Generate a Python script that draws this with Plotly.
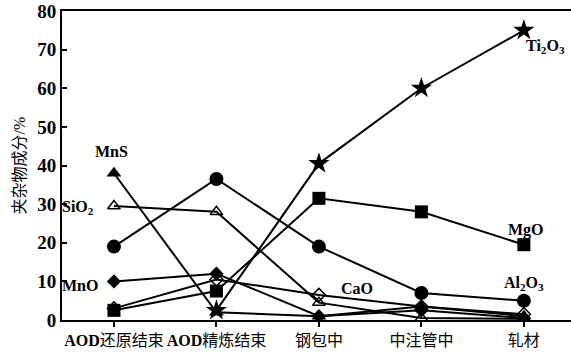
import plotly.graph_objects as go

stages = ["AOD还原结束", "AOD精炼结束", "钢包中", "中注管中", "轧材"]
al2o3 = [19, 36.5, 19, 7, 5]
mgo = [2.5, 7.5, 31.5, 28, 19.5]
mns = [38, 2, 1, 3.5, 1]
sio2 = [29.5, 28, 4.5, 0.5, 0.3]
mno = [10, 12, 1, 2.5, 0.5]
cao = [3, 10.5, 6.5, 3.5, 1.5]
ti2o3 = [None, 2.5, 40.5, 60, 75]
y_ticks = [0, 10, 20, 30, 40, 50, 60, 70, 80]

FONT = "Liberation Serif, Noto Sans CJK SC, serif"
xi = list(range(len(stages)))

series = [
    ("CaO", cao, dict(symbol="diamond-open", size=10, line=dict(width=1.5, color="black"))),
    ("SiO2", sio2, dict(symbol="triangle-up-open", size=11, line=dict(width=1.5, color="black"))),
    ("MnO", mno, dict(symbol="diamond", size=11)),
    ("MnS", mns, dict(symbol="triangle-up", size=13)),
    ("Al2O3", al2o3, dict(symbol="circle", size=14)),
    ("MgO", mgo, dict(symbol="square", size=13)),
    ("Ti2O3", ti2o3, dict(symbol="star", size=16)),
]

fig = go.Figure()
for name, vals, mk in series:
    fig.add_trace(go.Scatter(
        x=xi, y=vals, mode="lines+markers", name=name,
        line=dict(color="black", width=2),
        marker=dict(color="black", **mk),
        connectgaps=False, showlegend=False,
    ))

labels = [
    (0, mns[0], "MnS", -2, -22),
    (0, sio2[0], "SiO<sub>2</sub>", -36, 1),
    (0, mno[0], "MnO", -34, 4),
    (2, cao[2], "CaO", 38, -6),
    (4, al2o3[4], "Al<sub>2</sub>O<sub>3</sub>", 0, -17),
    (4, mgo[4], "MgO", 2, -15),
    (4, ti2o3[4], "Ti<sub>2</sub>O<sub>3</sub>", 22, 16),
]
for x, y, t, ax, ay in labels:
    fig.add_annotation(x=x, y=y, text="<b>" + t + "</b>", showarrow=False, xshift=ax, yshift=-ay,
                       font=dict(family=FONT, size=16, color="black"))

def fmt(s):
    if s.startswith("AOD"):
        return "<b>AOD</b>" + s[3:]
    return s

fig.update_layout(
    width=571, height=354,
    margin=dict(l=62, r=0, t=11, b=34),
    paper_bgcolor="white", plot_bgcolor="white",
    font=dict(family=FONT, color="black"),
    xaxis=dict(
        range=[-0.507, 4.46], tickvals=xi, ticktext=[fmt(s) for s in stages],
        tickangle=0,
        showgrid=False, zeroline=False, showline=True, linecolor="black", linewidth=2,
        mirror=True, ticks="outside", ticklen=5, tickwidth=1.5, tickcolor="black",
        tickfont=dict(family=FONT, size=16, color="black"),
    ),
    yaxis=dict(
        range=[0, 80], tickvals=y_ticks, ticktext=["<b>%d</b>" % v for v in y_ticks],
        showgrid=False, zeroline=False, showline=True, linecolor="black", linewidth=2,
        ticks="inside", ticklen=5, tickwidth=1.5, tickcolor="black",
        tickfont=dict(family=FONT, size=19, color="black"),
        title=dict(text="夹杂物成分/%", font=dict(family=FONT, size=16, color="black"), standoff=8),
    ),
)

fig.write_html("out.html")
